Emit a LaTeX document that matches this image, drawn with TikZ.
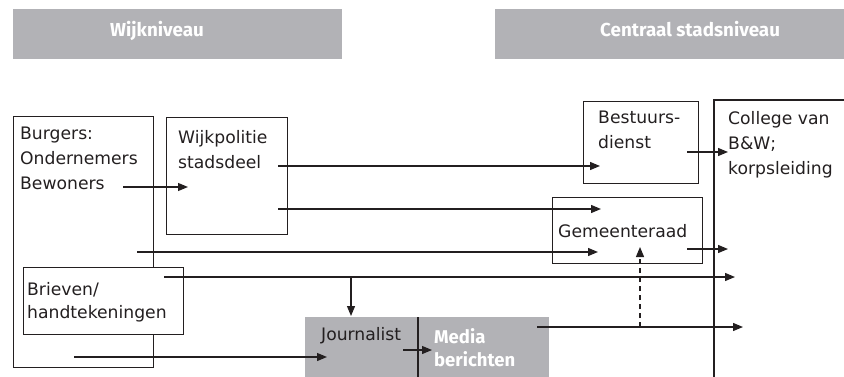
\documentclass[tikz,border=0pt]{standalone}
\usepackage{fontspec}
\setmainfont{DejaVu Sans}
\newfontfamily\hdrfont{Fira Sans}
\usetikzlibrary{arrows.meta}
\definecolor{panel}{HTML}{B2B2B6}
\definecolor{ink}{HTML}{231F20}
\begin{document}
\begin{tikzpicture}[x=1pt,y=-1pt,
  box/.style={draw=ink, line width=1.2pt, inner sep=0pt, anchor=north west},
  greybox/.style={fill=panel, inner sep=0pt, anchor=north west},
  txt/.style={font=\fontsize{17.2}{25}\selectfont, text=ink, align=left, inner sep=0pt, anchor=north west},
  hdr/.style={font=\hdrfont\bfseries\fontsize{18.8}{23}\selectfont, text=white, align=left, inner sep=0pt, anchor=north west},
  arr/.style={draw=ink, line width=1.2pt, -{Triangle[length=10pt,width=8pt]}},
  plain/.style={draw=ink, line width=1.2pt},
]
\useasboundingbox (0,0) rectangle (844,377);

% headers
\node[greybox, minimum width=329pt, minimum height=50pt] (h1) at (13,9) {};
\node[greybox, minimum width=349pt, minimum height=50pt] (h2) at (495,9) {};
\node[hdr] (h1t) at (110,21) {Wijkniveau};
\node[hdr] (h2t) at (600,21) {Centraal stadsniveau};

% boxes
\node[box, minimum width=140pt, minimum height=251pt] (burg) at (13,116) {};
\node[box, minimum width=121pt, minimum height=117pt] (wijk) at (166,117) {};
\node[box, fill=white, minimum width=160pt, minimum height=67pt] (brie) at (23,267) {};
\node[box, minimum width=115pt, minimum height=82pt] (best) at (583,101) {};
\node[box, minimum width=150pt, minimum height=66pt] (geme) at (552,197) {};
\node[greybox, minimum width=244pt, minimum height=62pt] (media) at (305,317) {};

% college (open box)
\coordinate (colT) at (844,100);
\coordinate (colTL) at (714,100);
\coordinate (colB) at (714,377);
\draw[plain] (colT) -- (colTL) -- (colB);
% divider in grey box
\coordinate (divT) at (418,317);
\coordinate (divB) at (418,377);
\draw[plain] (divT) -- (divB);

% texts
\node[txt] (tburg) at (20,127) {Burgers:\\Ondernemers\\Bewoners};
\node[txt] (twijk) at (178,130) {Wijkpolitie\\stadsdeel};
\node[txt, font=\fontsize{17.2}{23}\selectfont] (tbrie) at (27,282) {Brieven/\\handtekeningen};
\node[txt] (tbest) at (598,111) {Bestuurs-\\dienst};
\node[txt] (tcoll) at (728,111) {College van\\B\&W;\\korpsleiding};
\node[txt] (tgeme) at (558,224) {Gemeenteraad};
\node[txt] (tjour) at (321,327) {Journalist};
\node[hdr, font=\hdrfont\bfseries\fontsize{18.5}{23}\selectfont] (tmed) at (434,328) {Media\\berichten};

% connector end points
\coordinate (a1s) at (123,187);  \coordinate (a1e) at (188,187);
\coordinate (a2s) at (278,166);  \coordinate (a2e) at (600,166);
\coordinate (a3s) at (278,209);  \coordinate (a3e) at (601,209);
\coordinate (a4s) at (137,252);  \coordinate (a4e) at (598,252);
\coordinate (a5s) at (164,277);  \coordinate (a5e) at (735,277);
\coordinate (a6s) at (351,277);  \coordinate (a6e) at (351,316);
\coordinate (a7s) at (74,357);   \coordinate (a7e) at (327,357);
\coordinate (a8s) at (403,350);  \coordinate (a8e) at (432,350);
\coordinate (a9s) at (537,327);  \coordinate (a9e) at (743,327);
\coordinate (a10s) at (640,327); \coordinate (a10e) at (640,247);
\coordinate (a11s) at (687,152); \coordinate (a11e) at (728,152);
\coordinate (a12s) at (687,249); \coordinate (a12e) at (728,249);

\draw[arr] (a1s) -- (a1e);
\draw[arr] (a2s) -- (a2e);
\draw[arr] (a3s) -- (a3e);
\draw[arr] (a4s) -- (a4e);
\draw[arr] (a5s) -- (a5e);
\draw[arr] (a6s) -- (a6e);
\draw[arr] (a7s) -- (a7e);
\draw[arr] (a8s) -- (a8e);
\draw[arr] (a9s) -- (a9e);
\draw[arr, dash pattern=on 5pt off 4pt] (a10s) -- (a10e);
\draw[arr] (a11s) -- (a11e);
\draw[arr] (a12s) -- (a12e);
\end{tikzpicture}
\end{document}
